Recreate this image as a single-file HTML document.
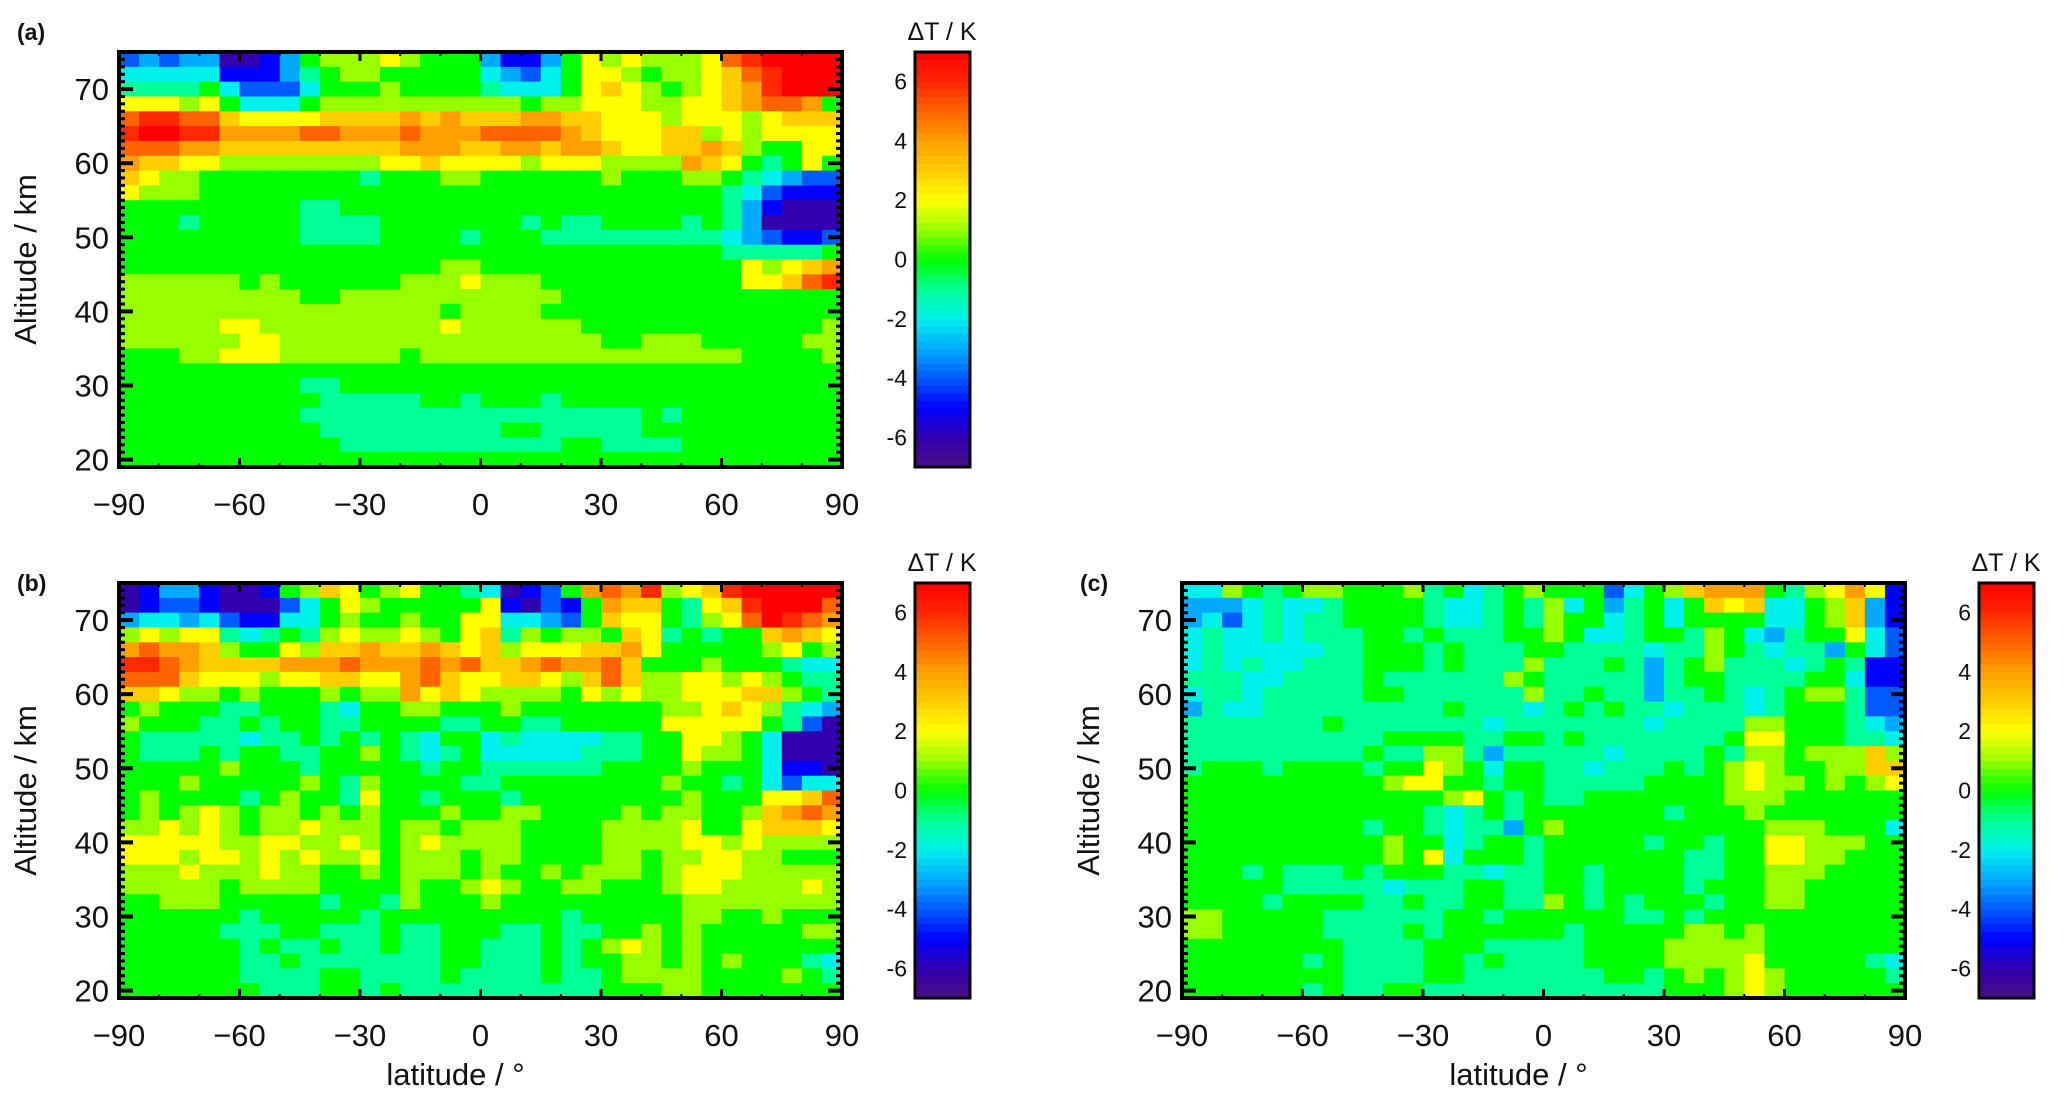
<!DOCTYPE html>
<html><head><meta charset="utf-8"><style>
html,body{margin:0;padding:0;background:#fff;}
svg{display:block;font-family:"Liberation Sans","DejaVu Sans",sans-serif;}
</style></head><body>
<svg id="fig" width="2067" height="1108" viewBox="0 0 2067 1108"></svg>
<script>
// codes: '0'..'E' => -7..+7 K
const codeChars = "0123456789ABCDE";
const latMin = -90, latMax = 90, altMin = 19, altMax = 75;
const xTickValues = [-90, -60, -30, 0, 30, 60, 90];
const xTickLabels = ["\u221290", "\u221260", "\u221230", "0", "30", "60", "90"];
const yTickValues = [20, 30, 40, 50, 60, 70];
const yTickLabels = ["20", "30", "40", "50", "60", "70"];
const cbTickValues = [-6, -4, -2, 0, 2, 4, 6];
const cbTickLabels = ["-6", "-4", "-2", "0", "2", "4", "6"];
const cbMin = -7, cbMax = 7;
// rows top (75 km) to bottom (19 km), 2 km each; 36 latitude bins of 5 deg
const gridA = [
"343441124788898777422479898889CDEEEE",
"555552224678877777543579987889ACDEEE",
"666675333577787777655579A98789ABDEEE",
"999897555788888888887889998899ABCCB",
"CDDCCA9999AAAABABAAABBAA999899989AAA",
"DEEDDBBBBCCBBBCBBBCCCCBA999AA8989999",
"CCCBBAAAAAAAAABBBAABBABBA99AABA87799",
"BAA998888888899A999989998888BA976797",
"A98877777777677788777777877788765433",
"988877777777777777777777777777653222",
"777777777667777777777777777777642111",
"777677777666677777776766777767641111",
"777777777666677776777666666666543223",
"777777777777777777777777777777666667",
"7777777777777777887777777777777989AB",
"888888787777778889888777777777799ACD",
"888888888778888888888877777777777777",
"888888888888888878888777777777777777",
"888889988888888898888887777777777778",
"888888998888888888888888778887777788",
"777889998888887888888888888888877778",
"777777777777777777777777777777777777",
"777777777667777777777777777777777777",
"777777777766666776777677777777777777",
"777777777666666666666666667677777777",
"777777777766666666677666667777777777",
"777777777776666666666677666677777777",
"777777777777777777777777777777777777"
].map(s => s.replace(/ /g, "").padEnd(36, "7").slice(0, 36));
const gridB = [
"1244211278A978977651237BCBD89ADEEEEE",
"123321113579877777921327BAA769ADEEEC",
"455453225578778779955437A997689CEDCB",
"898996567689889879A687887A967677ABA9",
"BCBBA87798AABAABA9A8999AAB9777778978",
"DDCBAAAABBBCBBBCBCAABCBBCA7778777655",
"CCCA999899AA99BCA99AA98ACA8899898766",
"AA988787778788B9A98888798988999AA876",
"787776677765778877787777777889A98654",
"877766767766777766776677777999997631",
"766666566767676577565555667799875111",
"766676776677876567555556667798875111",
"777778777677777677666666777787775221",
"777877777876877776677777777877675355",
"7877776787769776777677777777877799AC",
"78789878878787778778877778788778ABCB",
"88989878898887887888777788889779AAA9",
"999998899889878988887777888899898888",
"999899898988978887887777887889988777",
"888988898877878887877878887899988888",
"888887888877778778987788777899888898",
"778887777767768777877777777788888888",
"777777677777677777777767777788778777",
"777776667766676677766766778787777788",
"777777676676676677666767898787777777",
"777777667666666677666767788787877765",
"777777666677666676666766788887777876",
"777777766677676666666666777887777777"
].map(s => s.replace(/ /g, "").padEnd(36, "7").slice(0, 36));
const gridC = [
"5587678877786756787773578ABBB7689B92",
"44456556777765567685746757A9A5578A42",
"453565667777655676877567577775578A42",
"565565666776766677875567768754677953",
"565555566777676667766665668765664753",
"565655666777676668666764678666567622",
"666556666766666687666664677666677522",
"566566666776666668667664667656788633",
"465566666666676665676766566656777633",
"666666676666666566666665666688777654",
"666666666677776677676666666799777665",
"6666666667668864666665666676887888A8",
"6777677776779875776656667678987788AA",
"777777777789977677666667777898878789",
"777777777777789767667777777888777777",
"777777777777656767777777677787777777",
"777777777677656647877777777778887775",
"777777777787756776777776776779988877",
"777777777787957776777777766779988777",
"777676667677766566776777766778887777",
"777776666656667766776777767778877777",
"777767777667667766876767776778877777",
"887777766666677677777766767777777777",
"887777766667677777767777788787777777",
"777777776666777666667777888887777777",
"777777676666776766667777888897777765",
"777777776666776666666776787898777776",
"777777676677666666666666777898777777"
].map(s => s.replace(/ /g, "").padEnd(36, "7").slice(0, 36));

const palette = [
[75,15,130],[50,0,175],[0,0,255],[0,90,255],[0,170,255],[0,240,235],[0,255,150],
[0,255,0],[150,255,0],[255,255,0],[255,205,0],[255,160,0],[255,100,0],[255,40,0],[255,0,0]];

function colorFor(v){
  let t = (v - cbMin) / (cbMax - cbMin) * (palette.length - 1);
  t = Math.max(0, Math.min(palette.length - 1, t));
  const i = Math.floor(t), f = t - i;
  const a = palette[i], b = palette[Math.min(i + 1, palette.length - 1)];
  return "rgb(" + a.map((c, k) => Math.round(c + (b[k] - c) * f)).join(",") + ")";
}
const NS = "http://www.w3.org/2000/svg";
const svg = document.getElementById("fig");
function mk(tag, attrs, parent){
  const e = document.createElementNS(NS, tag);
  for (const k in attrs) e.setAttribute(k, attrs[k]);
  (parent || svg).appendChild(e);
  return e;
}

function drawPanel(id, grid, px, py, pw, ph, cbx, letter, letterY, showXTitle){
  const g = mk("g", {});
  
  
  const xs = lat => px + (lat - latMin) / (latMax - latMin) * pw;
  const ys = alt => py + ph - (alt - altMin) / (altMax - altMin) * ph;
  const nRows = grid.length, nCols = 36;
  const dLat = (latMax - latMin) / nCols, dAlt = (altMax - altMin) / nRows;
  const hm = mk("g", {}, g);
  
  
  for (let r = 0; r < nRows; r++){
    for (let c = 0; c < nCols; c++){
      const v = codeChars.indexOf(grid[r][c]) - 7;
      const lat0 = latMin + c * dLat, altTop = altMax - r * dAlt;
      const x0 = xs(lat0), x1 = xs(lat0 + dLat), y0 = ys(altTop), y1 = ys(altTop - dAlt);
      const rc = mk("rect", {x: x0, y: y0, width: x1 - x0 + 0.5, height: y1 - y0 + 0.5, fill: colorFor(v)}, hm);
      
      
    }
  }
  const tk = mk("g", {stroke: "#000", "stroke-width": 2}, g);
  
  
  for (let lat = latMin; lat <= latMax; lat += 10){
    const major = lat % 30 === 0, L = major ? 9 : 4;
    mk("line", {x1: xs(lat), x2: xs(lat), y1: py + ph, y2: py + ph - L, "stroke-width": major ? 3 : 2}, tk);
    mk("line", {x1: xs(lat), x2: xs(lat), y1: py, y2: py + L, "stroke-width": major ? 3 : 2}, tk);
  }
  for (let a = 20; a <= 75; a++){
    const major = a % 10 === 0, L = major ? 14 : 6;
    mk("line", {x1: px, x2: px + L, y1: ys(a), y2: ys(a), "stroke-width": major ? 4 : 3}, tk);
    mk("line", {x1: px + pw, x2: px + pw - L, y1: ys(a), y2: ys(a), "stroke-width": major ? 4 : 3}, tk);
  }
  const fr = mk("rect", {x: px, y: py, width: pw, height: ph, fill: "none", stroke: "#000", "stroke-width": 4}, g);
  
  
  xTickValues.forEach((v, i) => {
    const t = mk("text", {x: xs(v), y: py + ph + 48, "font-size": 31, "text-anchor": "middle", fill: "#111"}, g);
    t.textContent = xTickLabels[i];
    
    
  });
  yTickValues.forEach((v, i) => {
    const t = mk("text", {x: px - 10, y: ys(v) + 11, "font-size": 31, "text-anchor": "end", fill: "#111"}, g);
    t.textContent = yTickLabels[i];
    
    
  });
  const yt = mk("text", {x: 0, y: 0, "font-size": 31, "text-anchor": "middle", fill: "#111",
    transform: "translate(" + (px - 83) + "," + (py + ph / 2) + ") rotate(-90)"}, g);
  yt.textContent = "Altitude  /  km";
  
  
  if (showXTitle){
    const xt = mk("text", {x: px + pw / 2 - 25, y: py + ph + 87, "font-size": 31, "text-anchor": "middle", fill: "#111"}, g);
    xt.textContent = "latitude  / \u00b0";
    
    
  }
  const lt = mk("text", {x: px - 102, y: letterY, "font-size": 23, "font-weight": "bold", fill: "#111"}, g);
  lt.textContent = "(" + letter + ")";
  
  
  const cb = mk("g", {}, g);
  
  
  const cw = 55, steps = 56;
  const cys = v => py + ph - (v - cbMin) / (cbMax - cbMin) * ph;
  for (let s = 0; s < steps; s++){
    const v0 = cbMin + s * (cbMax - cbMin) / steps, v1 = cbMin + (s + 1) * (cbMax - cbMin) / steps;
    mk("rect", {x: cbx, y: cys(v1), width: cw, height: cys(v0) - cys(v1) + 0.5, fill: colorFor((v0 + v1) / 2)}, cb);
  }
  mk("rect", {x: cbx, y: py, width: cw, height: ph, fill: "none", stroke: "#000", "stroke-width": 3}, cb);
  cbTickValues.forEach((v, i) => {
    const t = mk("text", {x: cbx - 8, y: cys(v) + 8, "font-size": 23, "text-anchor": "end", fill: "#111"}, cb);
    t.textContent = cbTickLabels[i];
    
    
  });
  const ct = mk("text", {x: cbx + 27, y: py - 12, "font-size": 25, "text-anchor": "middle", fill: "#111"}, cb);
  ct.textContent = "\u0394T  /  K";
  
  
}
drawPanel("a", gridA, 119, 52, 723, 415, 915, "a", 40, false);
drawPanel("b", gridB, 119, 583, 723, 415, 915, "b", 591, true);
drawPanel("c", gridC, 1182, 583, 723, 415, 1979, "c", 591, true);
</script>
</body></html>
